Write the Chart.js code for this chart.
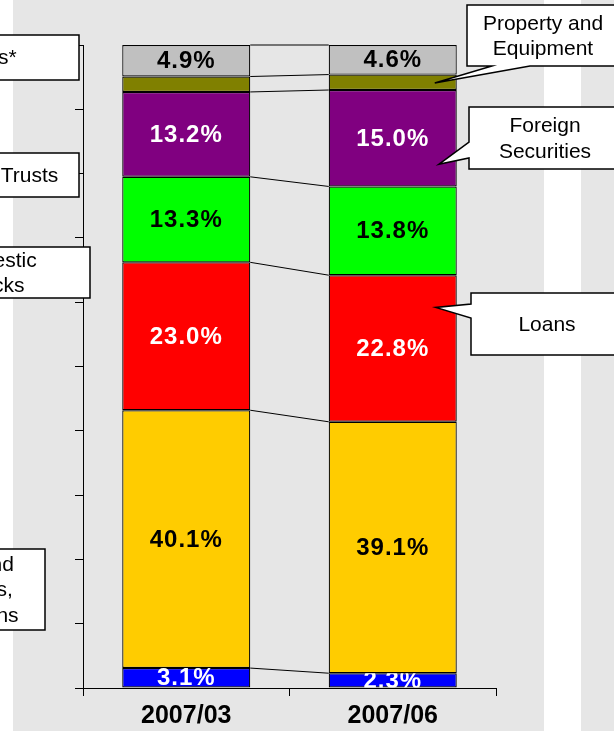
<!DOCTYPE html>
<html>
<head>
<meta charset="utf-8">
<script src="https://cdn.jsdelivr.net/npm/chart.js@4"></script>
<style>
  html, body { margin: 0; padding: 0; background: #fff; }
  #assetChart { display: block; }
</style>
</head>
<body>
<canvas id="assetChart" width="614" height="731"></canvas>
<script>
// categories (quarter ends)
const periods = ['2007/03', '2007/06'];

// asset mix, % of total, stacked bottom -> top
const cashDeposits = [3.1, 2.3];
const domesticBonds = [40.1, 39.1];
const loans = [23.0, 22.8];
const domesticStocks = [13.3, 13.8];
const foreignSecurities = [13.2, 15.0];
const propertyEquipment = [2.4, 2.4];
const others = [4.9, 4.6];

const yTicks = [0, 10, 20, 30, 40, 50, 60, 70, 80, 90, 100];

const FONT = "'Liberation Sans', Arial, sans-serif";

// callout boxes (text + where the wedge points)
const callouts = [
  { lines: ['Others*'], box: [-120, 35, 199, 45], cx: -19 },
  { lines: ['Money Trusts'], box: [-86, 153, 165, 44], cx: -5 },
  { lines: ['Domestic', 'Stocks'], box: [-86, 247, 176, 51], cx: -7 },
  { lines: ['Cash and', 'Deposits,', 'Call Loans'], box: [-110, 549, 155, 81], cx: -31 },
  { lines: ['Property and', 'Equipment'], box: [467, 5, 152, 61], cx: 543,
    wedge: { side: 'bottom', a: 492, b: 530, ds: 5, idx: 1, dx: -22, frac: 0.55 } },
  { lines: ['Foreign', 'Securities'], box: [469, 107, 152, 62], cx: 545,
    wedge: { side: 'left', a: 142, b: 158, ds: 4, idx: 1, dx: -18, frac: 0.77 } },
  { lines: ['Loans'], box: [471, 293, 152, 62], cx: 547,
    wedge: { side: 'left', a: 304, b: 318, ds: 2, idx: 1, dx: -21, frac: 0.22 } },
];

const backdrop = {
  id: 'backdrop',
  beforeDraw(chart) {
    const { ctx, width, height } = chart;
    ctx.save();
    ctx.fillStyle = '#ffffff';
    ctx.fillRect(0, 0, width, height);
    ctx.fillStyle = '#e6e6e6';
    ctx.fillRect(13, 0, 531, height);
    ctx.fillRect(581, 0, width - 581, height);
    ctx.restore();
  }
};

// excel style series lines between the two bars
const seriesLines = {
  id: 'seriesLines',
  afterDatasetsDraw(chart) {
    const ctx = chart.ctx;
    ctx.save();
    ctx.strokeStyle = '#000';
    ctx.lineWidth = 1;
    chart.data.datasets.forEach((ds, i) => {
      const els = chart.getDatasetMeta(i).data;
      const a = els[0], b = els[1];
      ctx.beginPath();
      ctx.moveTo(a.x + a.width / 2, a.y);
      ctx.lineTo(b.x - b.width / 2, b.y);
      ctx.stroke();
    });
    ctx.restore();
  }
};

const segmentLabels = {
  id: 'segmentLabels',
  afterDatasetsDraw(chart) {
    const ctx = chart.ctx;
    chart.data.datasets.forEach((ds, i) => {
      if (!ds.labelColor) return;
      chart.getDatasetMeta(i).data.forEach((el, j) => {
        const top = Math.min(el.y, el.base), bot = Math.max(el.y, el.base);
        ctx.save();
        ctx.beginPath();
        ctx.rect(el.x - el.width / 2, top, el.width, bot - top);
        ctx.clip();
        ctx.font = 'bold 24px ' + FONT;
        ctx.letterSpacing = '1px';
        ctx.fillStyle = ds.labelColor;
        ctx.textAlign = 'center';
        ctx.textBaseline = 'middle';
        ctx.fillText(ds.data[j].toFixed(1) + '%', el.x, (top + bot) / 2 + 1);
        ctx.restore();
      });
    });
  }
};

const calloutBoxes = {
  id: 'calloutBoxes',
  afterDraw(chart) {
    const ctx = chart.ctx;
    callouts.forEach((c) => {
      const [x, y, w, h] = c.box;
      ctx.save();
      ctx.beginPath();
      if (c.wedge) {
        const wd = c.wedge;
        const el = chart.getDatasetMeta(wd.ds).data[wd.idx];
        const tx = el.x + el.width / 2 + wd.dx;
        const ty = el.y + (el.base - el.y) * wd.frac;
        if (wd.side === 'bottom') {
          ctx.moveTo(x, y);
          ctx.lineTo(x + w, y);
          ctx.lineTo(x + w, y + h);
          ctx.lineTo(wd.b, y + h);
          ctx.lineTo(tx, ty);
          ctx.lineTo(wd.a, y + h);
          ctx.lineTo(x, y + h);
        } else {
          ctx.moveTo(x, y);
          ctx.lineTo(x + w, y);
          ctx.lineTo(x + w, y + h);
          ctx.lineTo(x, y + h);
          ctx.lineTo(x, wd.b);
          ctx.lineTo(tx, ty);
          ctx.lineTo(x, wd.a);
        }
        ctx.closePath();
      } else {
        ctx.rect(x, y, w, h);
      }
      ctx.fillStyle = '#fff';
      ctx.fill();
      ctx.strokeStyle = '#000';
      ctx.lineWidth = 1.5;
      ctx.lineJoin = 'miter';
      ctx.stroke();
      ctx.fillStyle = '#000';
      ctx.font = '21px ' + FONT;
      ctx.textAlign = 'center';
      ctx.textBaseline = 'middle';
      const lh = 25.5;
      const y0 = y + h / 2 - (c.lines.length - 1) * lh / 2;
      c.lines.forEach((t, k) => ctx.fillText(t, c.cx, y0 + k * lh + 1));
      ctx.restore();
    });
  }
};

const mk = (label, data, color, labelColor) => ({
  label, data,
  backgroundColor: color,
  borderColor: '#000',
  borderWidth: 1.2,
  borderSkipped: false,
  barPercentage: 0.62,
  categoryPercentage: 1.0,
  labelColor,
});

new Chart(document.getElementById('assetChart'), {
  type: 'bar',
  data: {
    labels: periods,
    datasets: [
      mk('Cash, Deposits and Call Loans', cashDeposits, '#0000ff', '#ffffff'),
      mk('Domestic Bonds', domesticBonds, '#ffcc00', '#000000'),
      mk('Loans', loans, '#ff0000', '#ffffff'),
      mk('Domestic Stocks', domesticStocks, '#00ff00', '#000000'),
      mk('Foreign Securities', foreignSecurities, '#800080', '#ffffff'),
      mk('Property and Equipment', propertyEquipment, '#808000', null),
      mk('Others', others, '#c0c0c0', '#000000'),
    ],
  },
  options: {
    responsive: false,
    animation: false,
    devicePixelRatio: 1,
    layout: { padding: { left: 75, right: 118, top: 45, bottom: 0 } },
    plugins: {
      legend: { display: false },
      tooltip: { enabled: false },
    },
    scales: {
      x: {
        stacked: true,
        grid: { drawOnChartArea: false, drawTicks: true, tickLength: 8, color: '#000', offset: true },
        border: { color: '#000', width: 1 },
        ticks: { color: '#000', font: { family: FONT, size: 25, weight: 'bold' }, padding: 5 },
        afterFit: (s) => { s.height = 43; },
      },
      y: {
        stacked: true,
        min: 0,
        max: 100,
        afterBuildTicks: (s) => { s.ticks = yTicks.map((v) => ({ value: v })); },
        grid: { drawOnChartArea: false, drawTicks: true, tickLength: 8, color: '#000' },
        border: { color: '#000', width: 1 },
        ticks: { display: false },
        afterFit: (s) => { s.width = 8; },
      },
    },
  },
  plugins: [backdrop, seriesLines, segmentLabels, calloutBoxes],
});
</script>
</body>
</html>
